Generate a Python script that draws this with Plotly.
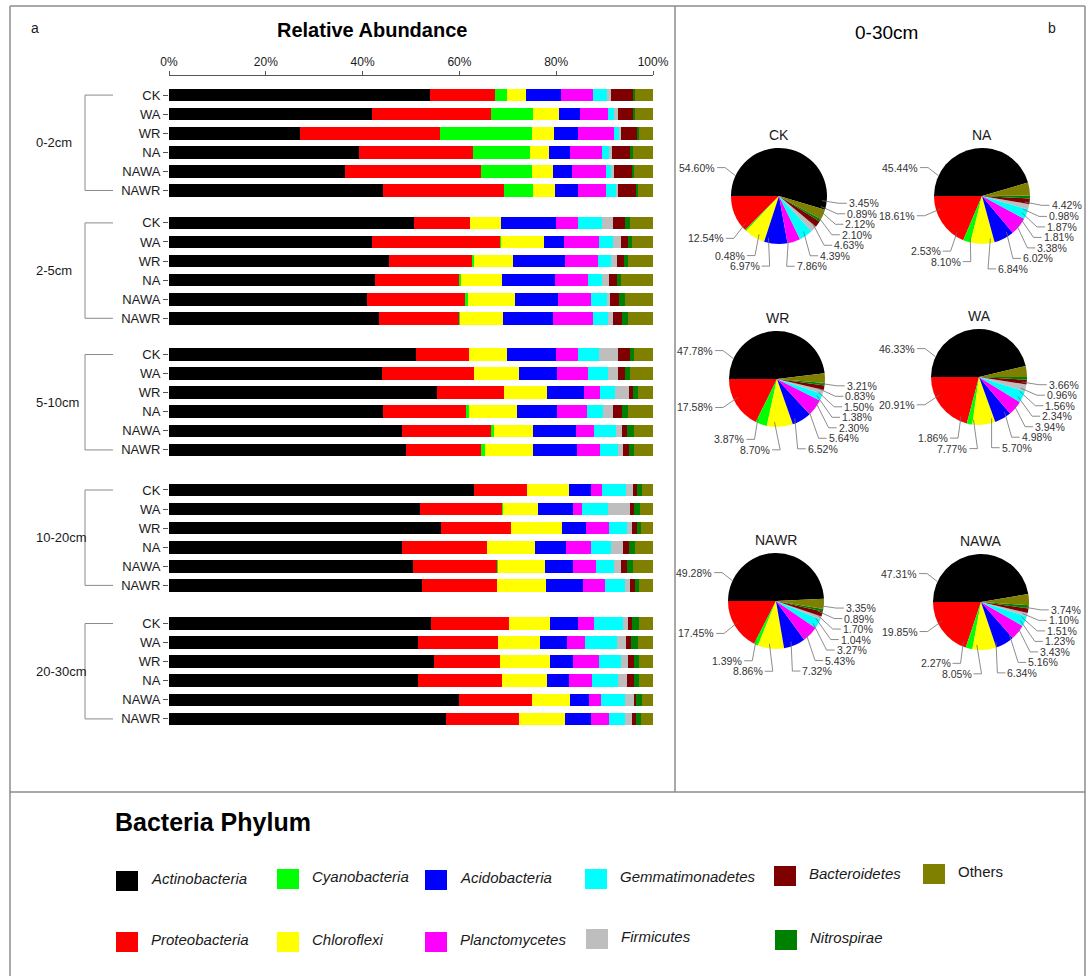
import math
import plotly.graph_objects as go

W, H = 1088, 976

# ---------------------------------------------------------------- data
phyla = ["Actinobacteria", "Proteobacteria", "Cyanobacteria", "Chloroflexi",
         "Acidobacteria", "Planctomycetes", "Gemmatimonadetes", "Firmicutes",
         "Bacteroidetes", "Nitrospirae", "Others"]
colors = ["#000000", "#FF0000", "#00FF00", "#FFFF00", "#0000FF", "#FF00FF",
          "#00FFFF", "#BEBEBE", "#7F0000", "#008000", "#808000"]
samples = ["CK", "WA", "WR", "NA", "NAWA", "NAWR"]
depths = ["0-2cm", "2-5cm", "5-10cm", "10-20cm", "20-30cm"]
pct_ticks = [0, 20, 40, 60, 80, 100]

# relative abundance (%) per sample, columns in the order of `phyla`
depth_0_2 = [
    [53.9, 13.5, 2.5, 3.8, 7.2, 6.6, 2.9, 0.9, 4.7, 0.2, 3.9],
    [41.9, 24.6, 8.7, 5.3, 4.4, 5.9, 1.2, 0.7, 3.3, 0.2, 3.8],
    [27.1, 28.9, 19.1, 4.5, 4.9, 7.4, 1.2, 0.3, 3.3, 0.5, 2.8],
    [39.2, 23.6, 11.7, 4.0, 4.3, 6.7, 1.4, 0.6, 3.8, 0.5, 4.2],
    [36.4, 28.1, 10.4, 4.4, 4.0, 7.0, 1.1, 0.5, 3.8, 0.4, 3.9],
    [44.3, 24.9, 6.1, 4.5, 4.7, 5.8, 2.2, 0.3, 3.6, 0.5, 3.1],
]
depth_2_5 = [
    [50.6, 11.6, 0.0, 6.3, 11.4, 4.6, 4.9, 2.3, 2.6, 1.0, 4.7],
    [41.9, 26.5, 0.2, 8.9, 4.2, 7.1, 3.0, 1.6, 1.5, 0.8, 4.3],
    [45.5, 17.3, 0.2, 8.1, 10.8, 6.8, 2.7, 1.1, 1.5, 0.8, 5.2],
    [42.6, 17.4, 0.4, 8.4, 10.9, 6.8, 2.9, 1.5, 1.6, 0.8, 6.7],
    [40.9, 20.4, 0.4, 9.7, 8.9, 6.9, 3.3, 0.7, 1.7, 1.3, 5.8],
    [43.4, 16.6, 0.1, 9.0, 10.3, 8.1, 3.3, 1.0, 1.7, 1.3, 5.2],
]
depth_5_10 = [
    [51.1, 10.9, 0.0, 7.8, 10.1, 4.5, 4.4, 4.0, 2.4, 0.8, 4.0],
    [44.1, 18.9, 0.0, 9.4, 7.7, 6.4, 4.1, 2.2, 1.4, 1.1, 4.7],
    [55.4, 13.8, 0.0, 9.0, 7.6, 3.2, 3.2, 2.8, 0.8, 1.1, 3.1],
    [44.3, 17.0, 0.7, 9.8, 8.4, 6.2, 3.3, 2.0, 1.9, 1.3, 5.1],
    [48.2, 18.5, 0.4, 8.1, 8.8, 3.9, 4.5, 1.2, 1.0, 1.5, 3.9],
    [49.0, 15.5, 0.7, 10.0, 9.0, 4.8, 3.8, 1.0, 1.2, 1.1, 3.9],
]
depth_10_20 = [
    [63.0, 11.0, 0.0, 8.7, 4.5, 2.3, 4.9, 1.5, 0.7, 1.1, 2.3],
    [51.8, 17.2, 0.1, 7.1, 7.2, 2.0, 5.2, 4.7, 0.7, 1.4, 2.6],
    [56.2, 14.4, 0.0, 10.7, 4.9, 4.8, 3.6, 1.1, 0.9, 1.0, 2.4],
    [48.1, 17.7, 0.0, 9.8, 6.4, 5.2, 4.1, 2.6, 1.1, 1.3, 3.7],
    [50.4, 17.5, 0.1, 9.7, 5.8, 4.8, 3.6, 1.5, 1.2, 1.3, 4.1],
    [52.3, 15.4, 0.0, 10.2, 7.6, 4.6, 4.1, 1.1, 0.9, 0.9, 2.9],
]
depth_20_30 = [
    [54.2, 16.1, 0.0, 8.4, 5.9, 3.2, 5.9, 1.2, 0.8, 1.5, 2.8],
    [51.4, 16.5, 0.0, 8.8, 5.5, 3.7, 6.6, 2.0, 1.0, 1.4, 3.1],
    [54.7, 13.7, 0.0, 10.3, 4.7, 5.5, 4.5, 1.5, 1.2, 1.0, 2.9],
    [51.5, 17.2, 0.0, 9.3, 4.7, 4.7, 5.4, 1.9, 1.3, 1.1, 2.9],
    [60.0, 14.9, 0.0, 7.9, 3.9, 2.6, 4.9, 1.9, 0.4, 1.3, 2.2],
    [57.2, 15.1, 0.0, 9.5, 5.3, 3.8, 3.4, 1.4, 0.8, 1.0, 2.5],
]
depth_tables = [depth_0_2, depth_2_5, depth_5_10, depth_10_20, depth_20_30]

# whole-profile (0-30 cm) composition, same phylum order
pie_CK = [54.60, 12.54, 0.48, 6.97, 7.86, 4.39, 4.63, 2.10, 2.12, 0.89, 3.45]
pie_NA = [45.44, 18.61, 2.53, 8.10, 6.84, 6.02, 3.38, 1.81, 1.87, 0.98, 4.42]
pie_WR = [47.78, 17.58, 3.87, 8.70, 6.52, 5.64, 2.30, 1.38, 1.50, 0.83, 3.21]
pie_WA = [46.33, 20.91, 1.86, 7.77, 5.70, 4.98, 3.94, 2.34, 1.56, 0.96, 3.66]
pie_NAWR = [49.28, 17.45, 1.39, 8.86, 7.32, 5.43, 3.27, 1.04, 1.70, 0.89, 3.35]
pie_NAWA = [47.31, 19.85, 2.27, 8.05, 6.34, 5.16, 3.43, 1.23, 1.51, 1.10, 3.74]

# ---------------------------------------------------------------- layout helpers
def px(x):
    return x / W

def py(y):
    return 1 - y / H

FONT = "Liberation Sans, Arial, sans-serif"
TXT = "#1a1a1a"
FRAME = "#8c8c8c"

def text(x, y, s, size, color=TXT, xanchor="center", **kw):
    return dict(xref="paper", yref="paper", x=px(x), y=py(y), text=s,
                showarrow=False, xanchor=xanchor, yanchor="middle",
                font=dict(size=size, color=color, family=FONT), **kw)

# vertical slots of the depth groups on the bar axis
group_start = [0.0, 6.7, 13.6, 20.7, 27.7]
row_pos = [g + i for g in group_start for i in range(len(samples))]
row_text = samples * len(depths)

fig = go.Figure()

# ---------------------------------------------------------------- stacked bars
for j, name in enumerate(phyla):
    xs = [row[j] for table in depth_tables for row in table]
    fig.add_trace(go.Bar(
        x=xs, y=row_pos, orientation="h", name=name,
        marker=dict(color=colors[j], line=dict(width=0)),
        width=0.66, showlegend=False, hoverinfo="x+name",
    ))

y_lo, y_hi = -1.0, group_start[-1] + 5 + 1.0
fig.update_layout(
    barmode="stack",
    xaxis=dict(domain=[px(169), px(653)], range=[0, 100], side="top",
               tickvals=pct_ticks, ticktext=[f"{t}%" for t in pct_ticks],
               ticks="outside", ticklen=4, tickcolor="#555",
               showline=True, linecolor="#555", linewidth=1,
               showgrid=False, zeroline=False, automargin=False,
               tickfont=dict(size=12, color=TXT, family=FONT)),
    yaxis=dict(domain=[py(738), py(76)], range=[y_hi, y_lo],
               tickvals=row_pos, ticktext=row_text,
               ticks="outside", ticklen=5, tickcolor="#555",
               showline=False, showgrid=False, zeroline=False, automargin=False,
               tickfont=dict(size=13, color=TXT, family=FONT)),
)

shapes = []
annotations = []

# depth group brackets and labels
for g, label in zip(group_start, depths):
    top, bot = g, g + len(samples) - 1
    for (x0, y0, x1, y1) in [(px(85), top, px(113), top),
                             (px(85), bot, px(113), bot),
                             (px(85), top, px(85), bot)]:
        shapes.append(dict(type="line", xref="paper", yref="y",
                           x0=x0, y0=y0, x1=x1, y1=y1,
                           line=dict(color="#8a8a8a", width=1)))
    annotations.append(dict(xref="paper", yref="y", x=px(34), y=(top + bot) / 2,
                            text=label, showarrow=False, xanchor="left",
                            yanchor="middle",
                            font=dict(size=13, color=TXT, family=FONT)))

# ---------------------------------------------------------------- pies
pies = [("CK", pie_CK, 779, 196), ("NA", pie_NA, 982, 196),
        ("WR", pie_WR, 777, 379), ("WA", pie_WA, 979, 377),
        ("NAWR", pie_NAWR, 776, 601), ("NAWA", pie_NAWA, 981, 602)]
R = 48
LABEL_R = 1.4 * R
MIN_GAP = 10.5


def pie_callouts(vals, cx, cy):
    """Outside percentage labels with leader lines, in pixel coordinates."""
    total = sum(vals)
    items = []
    cum = 0.0
    for v in vals:
        mid = (cum + v / 2) / total * 2 * math.pi   # counterclockwise from 3 o'clock
        cum += v
        c, s = math.cos(mid), math.sin(mid)
        if s > 0.7:
            # a slice covering the top gets its label at the upper left
            a = math.radians(155)
            tip = (cx + R * math.cos(a), cy - R * math.sin(a))
            lab = [cx + LABEL_R * math.cos(a), cy - LABEL_R * math.sin(a)]
            side = "left"
        else:
            tip = (cx + 0.9 * R * c, cy - 0.9 * R * s)
            lab = [cx + LABEL_R * c, cy - LABEL_R * s]
            side = "right" if c > 0 else "left"
        items.append(dict(text=f"{v:.2f}%", tip=tip, lab=lab, side=side))
    for side in ("left", "right"):
        group = sorted([it for it in items if it["side"] == side],
                       key=lambda it: it["lab"][1])
        for a, b in zip(group, group[1:]):
            if b["lab"][1] - a["lab"][1] < MIN_GAP:
                b["lab"][1] = a["lab"][1] + MIN_GAP
    return items


for title, vals, cx, cy in pies:
    fig.add_trace(go.Pie(
        values=vals, labels=phyla, sort=False,
        direction="counterclockwise", rotation=270,
        marker=dict(colors=colors, line=dict(width=0)),
        textinfo="none", automargin=False,
        domain=dict(x=[px(cx - R), px(cx + R)], y=[py(cy + R), py(cy - R)]),
        showlegend=False, hoverinfo="label+percent",
    ))
    annotations.append(text(cx, cy - R - 13, title, 14))
    for it in pie_callouts(vals, cx, cy):
        lx, ly = it["lab"]
        tx, ty = it["tip"]
        sgn = 1 if it["side"] == "right" else -1
        elbow = lx - sgn * 7
        path = (f"M {px(lx + sgn * 1)},{py(ly)} L {px(elbow)},{py(ly)} "
                f"L {px(tx)},{py(ty)}")
        shapes.append(dict(type="path", xref="paper", yref="paper", path=path,
                           line=dict(color="#6e6e6e", width=0.8)))
        annotations.append(text(lx + sgn * 2, ly, it["text"], 10.5, color="#333",
                                xanchor="left" if sgn > 0 else "right",
                                borderpad=0))

# ---------------------------------------------------------------- titles
annotations += [
    text(35, 28, "a", 14),
    text(372, 30, "<b>Relative Abundance</b>", 20, color="#000"),
    text(886, 32, "0-30cm", 19, color="#000"),
    text(1052, 28, "b", 14),
    text(113, 822, "<b>Bacteria Phylum</b>", 25, color="#000", xanchor="left"),
]

# ---------------------------------------------------------------- legend
legend_slots = {
    "Actinobacteria": (116, 881), "Cyanobacteria": (277, 879),
    "Acidobacteria": (425, 880), "Gemmatimonadetes": (585, 879),
    "Bacteroidetes": (774, 876), "Others": (923, 874),
    "Proteobacteria": (116, 942), "Chloroflexi": (277, 942),
    "Planctomycetes": (425, 942), "Firmicutes": (586, 939),
    "Nitrospirae": (775, 940),
}
for name, col in zip(phyla, colors):
    lx, ly = legend_slots[name]
    shapes.append(dict(type="rect", xref="paper", yref="paper",
                       x0=px(lx), x1=px(lx + 22), y0=py(ly + 10), y1=py(ly - 10),
                       fillcolor=col, line=dict(width=0)))
    label = name if name == "Others" else f"<i>{name}</i>"
    annotations.append(text(lx + 33, ly - 3, label, 15, xanchor="left"))

# ---------------------------------------------------------------- frame
for (x0, y0, x1, y1) in [(10, 6, 1085, 6), (10, 6, 10, 976), (1085, 6, 1085, 976),
                         (675, 6, 675, 792), (10, 792, 1085, 792)]:
    shapes.append(dict(type="line", xref="paper", yref="paper",
                       x0=px(x0), y0=py(y0), x1=px(x1), y1=py(y1),
                       line=dict(color=FRAME, width=1.5)))

fig.update_layout(
    width=W, height=H, autosize=False,
    margin=dict(l=0, r=0, t=0, b=0, pad=0, autoexpand=False),
    paper_bgcolor="white", plot_bgcolor="white",
    font=dict(family=FONT, color=TXT),
    shapes=shapes, annotations=annotations, showlegend=False,
)

fig.write_html("out.html", config={"responsive": False})
